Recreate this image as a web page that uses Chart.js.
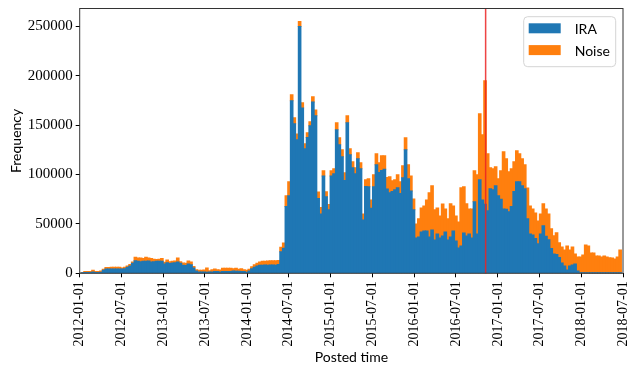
<!DOCTYPE html>
<html>
<head>
<meta charset="utf-8">
<script src="https://cdn.jsdelivr.net/npm/chart.js@4.4.1/dist/chart.umd.min.js"></script>
<style>
  html, body { margin: 0; padding: 0; background: #fff; }
  #histChart { display: block; }
</style>
</head>
<body>
<canvas id="histChart" width="628" height="367"></canvas>
<script>
const TICK_LABELS = [
  "2012-01-01", "2012-07-01", "2013-01-01", "2013-07-01", "2014-01-01",
  "2014-07-01", "2015-01-01", "2015-07-01", "2016-01-01", "2016-07-01",
  "2017-01-01", "2017-07-01", "2018-01-01", "2018-07-01",
];
const Y_TICKS = [0, 50000, 100000, 150000, 200000, 250000];
const X_MIN_DATE = "2012-01-01";
const X_MAX_DATE = "2018-07-01";
const Y_MAX = 268000;

// histogram bins: first bin start and bin width (days)
const FIRST_BIN_DATE = "2012-01-07";
const BIN_DAYS = 11.57;
const ELECTION_DATE = "2016-11-08";

// counts per bin
const IRA = [
  300, 700, 700, 700, 1400, 700, 700, 1000, 3000, 4400,
  4400, 4400, 4400, 4400, 4400, 4400, 4700, 6100, 7400, 10100,
  12800, 12200, 11800, 12200, 12200, 12500, 11500, 11800, 12200, 12200,
  12200, 9500, 10800, 9800, 10500, 10800, 11500, 10100, 8100, 7900,
  9400, 8700, 5400, 2300, 1300, 1300, 1300, 1000, 1300, 1300,
  1700, 1700, 1300, 1700, 1700, 1700, 1700, 2300, 2000, 2000,
  1700, 1700, 1000, 2300, 4700, 6000, 7400, 8100, 8100, 8400,
  8100, 8400, 8400, 8100, 9000, 21900, 25300, 67500, 78400, 174700,
  151400, 135100, 249700, 167300, 126000, 137500, 149300, 173400, 159500, 75600,
  60100, 98600, 77400, 64200, 98600, 100700, 145300, 130100, 117900, 93900,
  152400, 119900, 106800, 100700, 115900, 105700, 54000, 87800, 87500, 65900,
  87600, 109800, 102000, 104000, 105400, 85200, 81400, 82700, 84500, 86500,
  80700, 96600, 125000, 95600, 83400, 64200, 35800, 36800, 41900, 42900,
  42900, 36800, 43900, 33800, 39800, 35800, 37800, 41900, 33800, 36800,
  42900, 32800, 25700, 27700, 40900, 37800, 39800, 35800, 72300, 39800,
  94600, 74300, 70000, 63200, 85500, 84500, 88500, 78400, 75000, 65200,
  64900, 62200, 67500, 82700, 92600, 92600, 88500, 85500, 55300, 39800,
  38800, 35100, 30000, 39800, 48000, 37500, 34000, 25000, 19600, 19000,
  16000, 10400, 7400, 3400, 7400, 8400, 9400, 2300, 500, 400,
  400, 300, 300, 300, 200, 200, 200, 200, 200, 200,
  200, 200, 200, 200,
];
const NOISE = [
  400, 1000, 1000, 1000, 1600, 1000, 1000, 1400, 1100, 1400,
  1400, 1700, 1700, 1700, 1700, 1000, 1400, 1300, 1400, 1400,
  3400, 3400, 3700, 2700, 4000, 3000, 3400, 2400, 1700, 2000,
  2700, 1700, 2700, 2000, 1700, 1700, 4100, 1700, 2400, 2200,
  3000, 2700, 1400, 1400, 1700, 1700, 2000, 4400, 1400, 2400,
  2700, 2000, 2000, 3400, 3400, 3400, 3400, 2400, 3000, 2000,
  3000, 2000, 2000, 1700, 2000, 2700, 2700, 3400, 4000, 3700,
  4400, 4400, 4400, 4700, 4000, 4500, 5400, 10900, 14200, 6100,
  6100, 5800, 5100, 5400, 5100, 4800, 4100, 5400, 5800, 6800,
  6400, 5100, 5100, 5400, 5100, 5100, 7100, 7100, 7100, 7800,
  7100, 6100, 6100, 6100, 6100, 6100, 6100, 6800, 8100, 8400,
  12100, 11200, 9800, 14900, 13500, 11800, 16200, 10900, 10100, 13200,
  11900, 12200, 12200, 14200, 15200, 11100, 14200, 18300, 24300, 25300,
  31400, 44600, 44600, 30400, 26400, 22300, 32400, 23300, 21300, 33500,
  25300, 25300, 26300, 58800, 46600, 32500, 25400, 29400, 31400, 59900,
  66900, 65900, 125000, 57800, 21300, 21300, 19300, 17200, 28700, 57800,
  51000, 40500, 38200, 30100, 31400, 28400, 27400, 24300, 31100, 28400,
  26400, 26000, 23000, 20300, 22300, 27700, 26100, 20000, 18400, 22000,
  15000, 16300, 16200, 24300, 16200, 18300, 10200, 14200, 16000, 18200,
  28300, 27400, 20300, 20300, 17300, 17300, 16300, 17300, 16300, 15600,
  15300, 14300, 16300, 23400,
];

const IRA_COLOR = "#1f77b4";
const NOISE_COLOR = "#ff7f0e";

document.addEventListener("DOMContentLoaded", function () {
  function dayOf(dateStr) {
    return (Date.parse(dateStr) - Date.parse(X_MIN_DATE)) / 86400000;
  }

  const firstDay = dayOf(FIRST_BIN_DATE);
  const binCenters = IRA.map(function (_, i) {
    return firstDay + (i + 0.5) * BIN_DAYS;
  });

  function toPoints(values) {
    return values.map(function (v, i) {
      return { x: binCenters[i], y: v };
    });
  }

  const serif = "'Liberation Serif', 'DejaVu Serif', serif";
  const sans = "Lato, 'Liberation Sans', sans-serif";

  const overlay = {
    id: "overlay",
    afterDatasetsDraw: function (chart) {
      const ctx = chart.ctx;
      const area = chart.chartArea;

      // election day marker
      const xPos = chart.scales.x.getPixelForValue(dayOf(ELECTION_DATE));
      ctx.save();
      ctx.strokeStyle = "rgba(235, 35, 35, 0.85)";
      ctx.lineWidth = 1.5;
      ctx.beginPath();
      ctx.moveTo(xPos, area.top);
      ctx.lineTo(xPos, area.bottom);
      ctx.stroke();

      // axes frame
      ctx.strokeStyle = "#333";
      ctx.lineWidth = 1;
      ctx.strokeRect(area.left, area.top, area.right - area.left, area.bottom - area.top);

      // legend box, top right
      const w = 92, h = 50, r = 4;
      const bx = area.right - 7.3 - w;
      const by = area.top + 8.2;
      ctx.beginPath();
      ctx.moveTo(bx + r, by);
      ctx.arcTo(bx + w, by, bx + w, by + h, r);
      ctx.arcTo(bx + w, by + h, bx, by + h, r);
      ctx.arcTo(bx, by + h, bx, by, r);
      ctx.arcTo(bx, by, bx + w, by, r);
      ctx.closePath();
      ctx.fillStyle = "rgba(255, 255, 255, 0.8)";
      ctx.fill();
      ctx.strokeStyle = "#d4d4d4";
      ctx.stroke();

      ctx.font = "14px " + sans;
      ctx.textBaseline = "alphabetic";
      ctx.textAlign = "left";
      chart.data.datasets.forEach(function (ds, i) {
        const py = by + 6.6 + i * 21.8;
        ctx.fillStyle = ds.backgroundColor;
        ctx.fillRect(bx + 5, py, 32, 10);
        ctx.fillStyle = "#000";
        ctx.fillText(ds.label, bx + 51, py + 10.8);
      });
      ctx.restore();
    },
  };

  const ctx = document.getElementById("histChart").getContext("2d");
  const chart = new Chart(ctx, {
    type: "bar",
    data: {
      datasets: [
        {
          label: "IRA",
          data: toPoints(IRA),
          backgroundColor: IRA_COLOR,
          borderWidth: 0,
          barPercentage: 1,
          categoryPercentage: 1,
          inflateAmount: 0.5,
        },
        {
          label: "Noise",
          data: toPoints(NOISE),
          backgroundColor: NOISE_COLOR,
          borderWidth: 0,
          barPercentage: 1,
          categoryPercentage: 1,
          inflateAmount: 0.5,
        },
      ],
    },
    options: {
      responsive: false,
      animation: false,
      devicePixelRatio: 1,
      layout: {
        padding: { top: 8.5, right: 5, bottom: 0, left: 0 },
      },
      plugins: {
        legend: { display: false },
        tooltip: { enabled: false },
      },
      scales: {
        x: {
          type: "linear",
          stacked: true,
          offset: false,
          min: 0,
          max: dayOf(X_MAX_DATE),
          border: { display: false },
          grid: {
            display: true,
            offset: false,
            drawOnChartArea: false,
            drawTicks: true,
            tickLength: 4,
            tickColor: "#000",
          },
          ticks: {
            autoSkip: false,
            minRotation: 90,
            maxRotation: 90,
            padding: 4,
            color: "#000",
            font: { family: serif, size: 14 },
            callback: function (value) {
              const label = TICK_LABELS.find(function (l) {
                return Math.abs(dayOf(l) - value) < 0.01;
              });
              return label || "";
            },
          },
          title: {
            display: true,
            text: "Posted time",
            color: "#000",
            font: { family: sans, size: 14 },
            padding: { top: 0, bottom: 1 },
          },
          afterBuildTicks: function (scale) {
            scale.ticks = TICK_LABELS.map(function (l) {
              return { value: dayOf(l) };
            });
          },
          afterFit: function (scale) {
            scale.height = 93.7;
            scale.paddingLeft = 0;
            scale.paddingRight = 0;
          },
        },
        y: {
          stacked: true,
          min: 0,
          max: Y_MAX,
          border: { display: false },
          grid: {
            display: true,
            drawOnChartArea: false,
            drawTicks: true,
            tickLength: 4,
            tickColor: "#000",
          },
          ticks: {
            padding: 3,
            color: "#000",
            font: { family: serif, size: 15 },
            callback: function (value) {
              return String(value);
            },
          },
          title: {
            display: true,
            text: "Frequency",
            color: "#000",
            font: { family: sans, size: 14 },
            padding: { top: 8, bottom: 0 },
          },
          afterBuildTicks: function (scale) {
            scale.ticks = Y_TICKS.map(function (v) {
              return { value: v };
            });
          },
          afterFit: function (scale) {
            scale.width = 79.7;
            scale.paddingTop = 0;
            scale.paddingBottom = 0;
          },
        },
      },
    },
    plugins: [overlay],
  });
});
</script>
</body>
</html>
